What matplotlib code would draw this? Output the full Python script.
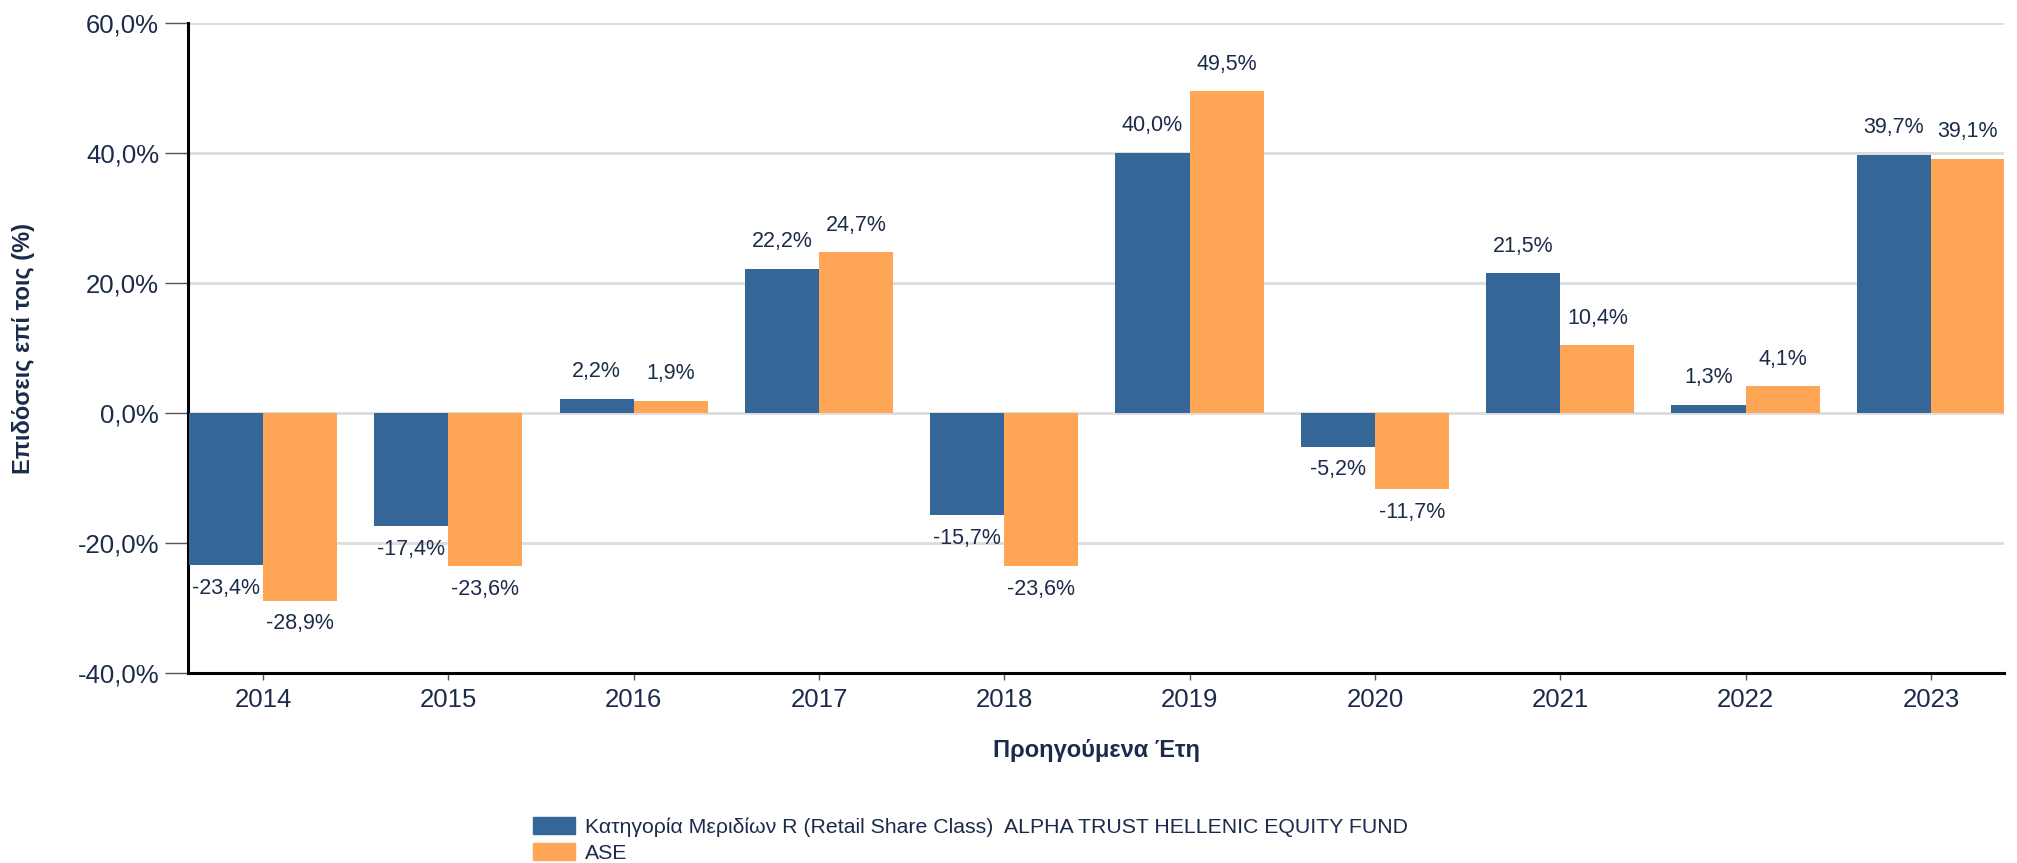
import matplotlib
matplotlib.use("Agg")
import matplotlib.pyplot as plt
import numpy as np
from matplotlib.patches import Patch

# Data
years = ["2014", "2015", "2016", "2017", "2018", "2019", "2020", "2021", "2022", "2023"]
fund = [-23.4, -17.4, 2.2, 22.2, -15.7, 40.0, -5.2, 21.5, 1.3, 39.7]
ase = [-28.9, -23.6, 1.9, 24.7, -23.6, 49.5, -11.7, 10.4, 4.1, 39.1]
fund_name = "Κατηγορία Μεριδίων R (Retail Share Class)  ALPHA TRUST HELLENIC EQUITY FUND"
ase_name = "ASE"

blue = "#356698"
orange = "#fea556"
navy = "#1c2b4b"

plt.rcParams['font.family'] = ['Liberation Sans', 'DejaVu Sans']

fig = plt.figure(figsize=(20.17, 8.63), dpi=100)
ax = fig.add_axes([0.0932, 0.2202, 0.9936 - 0.0932, 0.9733 - 0.2202])

x = np.arange(len(years))
w = 0.4
b1 = ax.bar(x - w / 2, fund, w, color=blue, zorder=3)
b2 = ax.bar(x + w / 2, ase, w, color=orange, zorder=3)


def fmt(v):
    return f"{v:.1f}%".replace(".", ",")


# value labels
for bars, vals in ((b1, fund), (b2, ase)):
    for rect, v in zip(bars, vals):
        cx = rect.get_x() + rect.get_width() / 2
        if v >= 0:
            ax.annotate(fmt(v), (cx, v), xytext=(0, 12), textcoords="offset points",
                        ha="center", va="bottom", fontsize=15.5, color=navy)
        else:
            ax.annotate(fmt(v), (cx, v), xytext=(0, -9), textcoords="offset points",
                        ha="center", va="top", fontsize=15.5, color=navy)

ax.set_ylim(-40, 60)
ax.set_xlim(-0.405, 9.395)
ax.set_yticks(np.arange(-40, 61, 20))
ax.set_yticklabels([fmt(v) for v in np.arange(-40, 61, 20)])
ax.set_xticks(x)
ax.set_xticklabels(years)

ax.grid(axis="y", color="#dcdcdc", linewidth=2, zorder=0)
ax.tick_params(axis="y", length=16.5, width=1, color="#555555", labelsize=18.5,
               labelcolor=navy, pad=4.3)
ax.tick_params(axis="x", length=5, width=1, color="#555555", labelsize=18.5,
               labelcolor=navy, pad=6)

for s in ("top", "right"):
    ax.spines[s].set_visible(False)
for s in ("left", "bottom"):
    ax.spines[s].set_linewidth(2.2)
    ax.spines[s].set_color("black")

ax.set_ylabel("Επιδόσεις επί τοις (%)", fontsize=17, fontweight="bold", color=navy)
ax.yaxis.set_label_coords(-0.084, 0.5)
ax.set_xlabel("Προηγούμενα Έτη", fontsize=17, fontweight="bold", color=navy)
ax.xaxis.set_label_coords(0.5, -0.1015)

handles = [Patch(color=blue, label=fund_name), Patch(color=orange, label=ase_name)]
leg = fig.legend(handles=handles, loc="upper left", bbox_to_anchor=(0.2643, 0.053),
                 frameon=False, handlelength=1.95, handleheight=0.87,
                 handletextpad=0.5, labelspacing=0.27, borderaxespad=0, borderpad=0,
                 prop={'size': 15.3})
for t in leg.get_texts():
    t.set_color(navy)

fig.savefig("out.png", dpi=100)
